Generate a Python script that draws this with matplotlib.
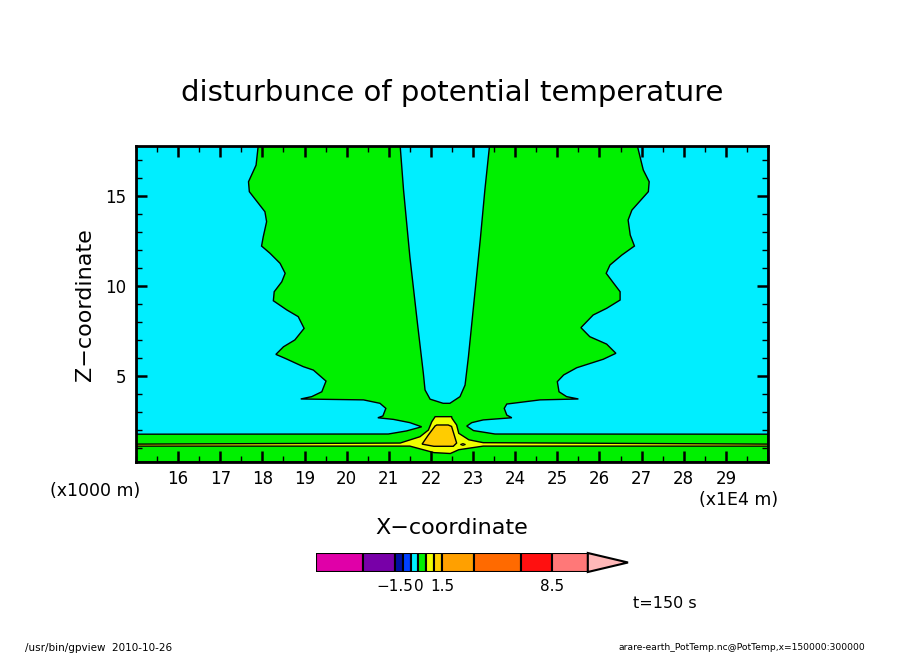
import matplotlib
matplotlib.use("Agg")
import matplotlib.pyplot as plt
from matplotlib.ticker import MultipleLocator

# ---- contour boundaries (x in 1E4 m, z in 1000 m) ----
# green region (0 .. 0.5): bottom layer + plume, with the central cyan notch
green_x = [15.0, 15.0, 20.99, 21.42, 21.78, 21.50, 21.11, 20.74, 20.86, 20.93, 20.79, 20.40,
           18.91, 19.17, 19.41, 19.51, 19.21, 18.97, 18.54, 18.32, 18.50, 18.77, 18.99, 18.85,
           18.58, 18.26, 18.28, 18.46, 18.54, 18.42, 18.18, 17.98, 18.02, 18.10, 18.06, 17.69,
           17.67, 17.85, 17.90,
           21.27, 21.35, 21.50, 21.68, 21.82, 21.86, 21.98, 22.29, 22.45, 22.69, 22.81, 22.89,
           23.01, 23.17, 23.28, 23.39,
           26.90, 27.04, 27.18, 27.16, 26.77, 26.68, 26.73, 26.83, 26.53, 26.25, 26.16, 26.34,
           26.49, 26.49, 26.17, 25.85, 25.56, 25.77, 26.17, 26.39, 26.09, 25.46, 25.15, 25.00,
           25.04, 25.22, 25.50, 24.59, 23.80, 23.74, 23.80, 23.92, 23.24, 22.97, 22.85, 23.01,
           23.52, 30.0, 30.0]
green_z = [0.25, 1.79, 1.80, 1.97, 2.20, 2.43, 2.61, 2.70, 2.80, 3.22, 3.50, 3.69,
           3.74, 3.87, 4.14, 4.73, 5.34, 5.53, 5.99, 6.21, 6.63, 7.01, 7.65, 8.30,
           8.67, 9.18, 9.68, 10.23, 10.70, 11.25, 11.81, 12.21, 12.72, 13.56, 14.11, 15.22,
           15.77, 16.69, 17.75,
           17.75, 15.31, 11.62, 7.93, 5.16, 4.24, 3.73, 3.50, 3.50, 3.87, 4.51, 6.08,
           8.85, 12.54, 15.31, 17.75,
           17.75, 16.42, 15.77, 15.22, 14.20, 13.65, 12.82, 12.21, 11.71, 11.16, 10.70, 10.14,
           9.68, 9.22, 8.76, 8.39, 7.69, 7.19, 6.78, 6.27, 5.94, 5.47, 5.07, 4.70,
           4.14, 3.87, 3.74, 3.69, 3.46, 3.22, 2.85, 2.70, 2.58, 2.43, 2.24, 1.99,
           1.80, 1.79, 0.25]

# yellow region (0.5 .. 1): thin layer + central blob
yellow_x = [15.0, 21.50, 22.07, 22.46, 22.66, 23.24, 30.0, 30.0, 23.24, 22.90, 22.66, 22.61,
            22.50, 22.49, 22.10, 22.02, 21.94, 21.74, 21.27, 15.0]
yellow_z = [1.13, 1.13, 0.77, 0.72, 0.93, 1.13, 1.13, 1.24, 1.32, 1.48, 1.84, 2.30,
            2.67, 2.76, 2.76, 2.48, 2.02, 1.65, 1.30, 1.24]

# gold region (1 .. 1.5)
gold_x = [22.14, 22.41, 22.49, 22.61, 22.53, 22.07, 21.79, 21.94, 22.10]
gold_z = [2.30, 2.30, 2.22, 1.30, 1.12, 1.12, 1.24, 1.75, 2.25]

# tiny closed contour right of the blob
isle_x = [22.70, 22.76, 22.82, 22.76]
isle_z = [1.22, 1.27, 1.22, 1.17]

# colour bar
cb_levels = [-6.5, -3.5, -1.5, -1.0, -0.5, 0.0, 0.5, 1.0, 1.5, 3.5, 6.5, 8.5, 10.75]
cb_colors = ["#e000a8", "#7800a8", "#0010a0", "#0040ff", "#00eeff", "#00f000",
             "#eeff00", "#ffd000", "#ffa000", "#ff6a00", "#ff1010", "#ff7878"]
cb_over = "#ffb8b8"
cb_ticks = [-1.5, 0.0, 1.5, 8.5]
cb_ticklabels = ["\u22121.5", "0", "1.5", "8.5"]

x_major = list(range(16, 30))

W, H = 904, 654
fig = plt.figure(figsize=(W / 100, H / 100), dpi=100)

def box(l, t, r, b):
    return [l / W, 1 - b / H, (r - l) / W, (b - t) / H]

ax = fig.add_axes(box(136, 146, 768, 462))
ax.set_facecolor("#00eeff")
ax.fill(green_x, green_z, facecolor="#00f000", edgecolor="black", linewidth=1.0)
ax.fill(yellow_x, yellow_z, facecolor="#eeff00", edgecolor="black", linewidth=1.0)
ax.fill(gold_x, gold_z, facecolor="#ffcc00", edgecolor="black", linewidth=1.0)
ax.fill(isle_x, isle_z, facecolor="#eeff00", edgecolor="black", linewidth=0.8)
ax.set_xlim(15, 30)
ax.set_ylim(0.25, 17.75)

ax.set_xticks(x_major)
ax.set_xticklabels([str(v) for v in x_major])
ax.xaxis.set_minor_locator(MultipleLocator(0.5))
ax.set_yticks([5, 10, 15])
ax.yaxis.set_minor_locator(MultipleLocator(1))
ax.tick_params(which="both", direction="in", top=True, right=True, labelsize=12)
ax.tick_params(which="major", length=8, width=1.8)
ax.tick_params(which="minor", length=4, width=1.0)
ax.tick_params(axis="x", pad=6)
ax.tick_params(axis="y", pad=7)
for s in ax.spines.values():
    s.set_linewidth(2)
    s.set_zorder(5)

fig.text(452 / W, 1 - 93 / H, "disturbunce of potential temperature",
         ha="center", va="center", fontsize=21)
fig.text(85 / W, 1 - 305 / H, "Z\u2212coordinate", ha="center", va="center",
         rotation=90, fontsize=16)
fig.text(452 / W, 1 - 528 / H, "X\u2212coordinate", ha="center", va="center", fontsize=16)
fig.text(95 / W, 1 - 491 / H, "(x1000 m)", ha="center", va="center", fontsize=12.5)
fig.text(739 / W, 1 - 500 / H, "(x1E4 m)", ha="center", va="center", fontsize=12.5)
fig.text(665 / W, 1 - 604 / H, "t=150 s", ha="center", va="center", fontsize=11.5)
fig.text(25 / W, 1 - 648 / H, "/usr/bin/gpview  2010-10-26", ha="left", va="center",
         fontsize=7.5)
fig.text(865 / W, 1 - 648 / H, "arare-earth_PotTemp.nc@PotTemp,x=150000:300000",
         ha="right", va="center", fontsize=6.6)

# colour bar drawn by hand
cax = fig.add_axes(box(316, 553, 628, 572))
widths = [cb_levels[i + 1] - cb_levels[i] for i in range(len(cb_colors))]
cax.barh(0.5, widths, left=cb_levels[:-1], height=1.0, color=cb_colors,
         edgecolor="black", linewidth=1.5)
top = cb_levels[-1]
cax.fill([top, top, top + 2.55], [0, 1, 0.5], facecolor=cb_over, edgecolor="black",
         linewidth=1.5, clip_on=False)
cax.set_xlim(cb_levels[0], top + 2.55)
cax.set_ylim(0, 1)
cax.set_yticks([])
cax.set_xticks(cb_ticks)
cax.set_xticklabels(cb_ticklabels)
cax.tick_params(axis="x", length=0, labelsize=11, pad=5)
for s in cax.spines.values():
    s.set_visible(False)

fig.savefig("out.png", dpi=100)
